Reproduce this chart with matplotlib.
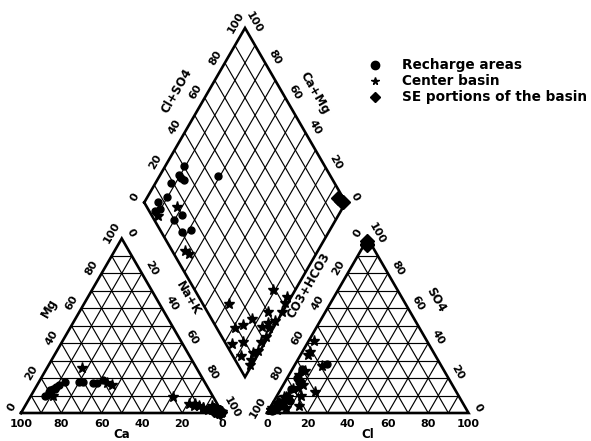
#!/usr/bin/env python3

import matplotlib
matplotlib.use('Agg')
import matplotlib.pyplot as plt
import numpy as np

plt.rcParams['font.family'] = ['DejaVu Sans']
plt.rcParams['font.weight'] = 'bold'

# percent of meq/L, Na+K = 100-Ca-Mg, CO3+HCO3 = 100-Cl-SO4
rech_ca  = [80, 77, 73, 79, 69, 75, 83, 80, 76, 60, 54, 62, 56, 50]
rech_mg  = [11, 14, 16, 13, 18, 15, 10, 12, 14, 18, 17, 18, 17, 19]
rech_cl  = [5, 5, 7, 5, 8, 5, 3, 2, 3, 8, 16, 4, 6, 5]
rech_so4 = [25, 20, 18, 14, 18, 8, 4, 1, 3, 7, 28, 6, 4, 10]

cent_ca  = [20, 56.5, 49, 47, 8, 0.5, 2.5, 9.5, 14, 12, 4, 8, 1, 1, 0.2, 1.5,
            0.5, 1, 0.8, 2, 1.5, 0.5, 6, 3, 11, 79]
cent_mg  = [9, 26, 17, 16, 3, 0.5, 1.5, 4, 5, 4, 2, 3, 1, 0.5, 0.3, 0.5,
            0.5, 1, 0.2, 1, 0.5, 0.5, 2, 4, 5, 10]
cent_cl  = [4, 6, 3, 3, 4, 7, 5, 6, 3, 5, 8, 4, 3, 14, 4, 10,
            12, 14, 6, 8, 2, 4, 1, 18, 1, 1]
cent_so4 = [9, 9, 3, 4.5, 35, 24, 22, 14, 6, 9, 14.5, 5, 41, 27, 33, 16,
            10, 4, 8, 3, 6, 2, 3, 12, 2, 2]

se_ca  = [2, 1, 3]
se_mg  = [1, 0.5, 2]
se_cl  = [1, 0.5, 1.5]
se_so4 = [97, 98.5, 96]

groups = [('Recharge areas', rech_ca, rech_mg, rech_cl, rech_so4, 'o', 5),
          ('Center basin', cent_ca, cent_mg, cent_cl, cent_so4, '*', 8),
          ('SE portions of the basin', se_ca, se_mg, se_cl, se_so4, 'D', 7)]

H  = np.sqrt(3) / 2
RX = 1.221                 # left corner of anion triangle
DB = (1.1117, 0.1787)      # bottom corner of diamond
DL = (DB[0] - 0.5, DB[1] + H)
DT = (DB[0], DB[1] + 2 * H)
PX = 201.5                 # pixels per unit side

def CationXY(ca, mg):
  ca, mg = np.asarray(ca, float), np.asarray(mg, float)
  nak = 100 - ca - mg
  return (nak + mg / 2) / 100, mg / 100 * H

def AnionXY(cl, so4):
  cl, so4 = np.asarray(cl, float), np.asarray(so4, float)
  return RX + (cl + so4 / 2) / 100, so4 / 100 * H

def DiamondXY(ca, mg, cl, so4):
  nak = (100 - np.asarray(ca, float) - np.asarray(mg, float)) / 100
  a = (np.asarray(cl, float) + np.asarray(so4, float)) / 100
  return DL[0] + 0.5 * (a + nak), DL[1] + H * (a - nak)

fig = plt.figure(figsize=(5.91, 4.41), dpi=100)
ax = fig.add_axes([0, 0, 1, 1])
ax.set_xlim(-21 / PX, 570 / PX)
ax.set_ylim(-28 / PX, 413 / PX)
ax.axis('off')

lw_grid, lw_edge = 0.85, 1.9

def Line(p, q, lw=lw_grid):
  ax.plot([p[0], q[0]], [p[1], q[1]], color='black', lw=lw,
          solid_capstyle='butt', zorder=1)

# triangles
for x0 in (0, RX):
  for i in range(1, 10):
    f = i / 10
    Line((x0 + f / 2, f * H), (x0 + 1 - f / 2, f * H))
    Line((x0 + f, 0), (x0 + f + (1 - f) / 2, (1 - f) * H))
    Line((x0 + 1 - f, 0), (x0 + (1 - f) / 2, (1 - f) * H))
  ax.plot([x0, x0 + 1, x0 + 0.5, x0], [0, 0, H, 0], color='black',
          lw=lw_edge, zorder=2, solid_joinstyle='miter')

# diamond
for i in range(1, 10):
  f = i / 10
  p = (DL[0] + 0.5 * f, DL[1] + H * f)
  Line(p, (p[0] + 0.5, p[1] - H))
  p = (DL[0] + 0.5 * f, DL[1] - H * f)
  Line(p, (p[0] + 0.5, p[1] + H))
ax.plot([DL[0], DT[0], DL[0] + 1, DB[0], DL[0]],
        [DL[1], DT[1], DL[1], DB[1], DL[1]], color='black', lw=lw_edge,
        zorder=2, solid_joinstyle='miter')

# tick labels
d = 11 / PX
fs = 8
nl = (-H * d, 0.5 * d)
nr = (H * d, 0.5 * d)
def Tick(x, y, n, s, rot):
  ax.text(x + n[0], y + n[1], s, fontsize=fs, rotation=rot,
          ha='center', va='center', rotation_mode='anchor')

for v in range(0, 101, 20):
  f = v / 100
  s = str(v)
  # cation triangle
  ax.text(1 - f, -d, s, fontsize=fs, ha='center', va='center')
  Tick(f / 2, f * H, nl, s, 60)
  Tick(0.5 + f / 2, (1 - f) * H, nr, s, -60)
  # anion triangle
  ax.text(RX + f, -d, s, fontsize=fs, ha='center', va='center')
  Tick(RX + (1 - f) / 2, (1 - f) * H, nl, s, 60)
  Tick(RX + 1 - f / 2, f * H, nr, s, -60)
  # diamond
  Tick(DL[0] + 0.5 * f, DL[1] + H * f, nl, s, 60)
  Tick(DT[0] + 0.5 * (1 - f), DT[1] - H * (1 - f), nr, s, -60)

# axis titles
t = 28 / PX
ft = 8.5
ax.text(0.5, -22 / PX, 'Ca', fontsize=ft, ha='center', va='center')
ax.text(RX + 0.5, -22 / PX, 'Cl', fontsize=ft, ha='center', va='center')
def Title(p, q, frac, side, s, rot):
  x = p[0] + (q[0] - p[0]) * frac
  y = p[1] + (q[1] - p[1]) * frac
  n = (-H, 0.5) if side < 0 else (H, 0.5)
  ax.text(x + n[0] * t, y + n[1] * t, s, fontsize=ft, rotation=rot,
          ha='center', va='center', rotation_mode='anchor')
Title((0, 0), (0.5, H), 0.52, -1, 'Mg', 60)
Title((0.5, H), (1, 0), 0.42, 1, 'Na+K', -60)
Title((RX + 0.5, H), (RX, 0), 0.35, -1, 'CO3+HCO3', 60)
Title((RX + 0.5, H), (RX + 1, 0), 0.43, 1, 'SO4', -60)
Title(DL, DT, 0.56, -1, 'Cl+SO4', 60)
Title(DT, (DL[0] + 1, DL[1]), 0.45, 1, 'Ca+Mg', -60)

# samples
for name, ca, mg, cl, so4, mk, ms in groups:
  for xy in (CationXY(ca, mg), AnionXY(cl, so4), DiamondXY(ca, mg, cl, so4)):
    ax.plot(xy[0], xy[1], ls='none', marker=mk, ms=ms, color='black',
            mec='black', zorder=3, clip_on=False)

# legend
for k, (name, ca, mg, cl, so4, mk, ms) in enumerate(groups):
  y = 1 - (65 + 16 * k) / 441
  lms = {'o': 6, '*': 5.5, 'D': 5.5}[mk]
  fig.lines.append(matplotlib.lines.Line2D([375 / 591], [y], marker=mk,
                   ms=lms, color='black', transform=fig.transFigure))
  fig.text(402 / 591, y, name, fontsize=9.8, ha='left', va='center')

fig.savefig('out.png', dpi=100)
